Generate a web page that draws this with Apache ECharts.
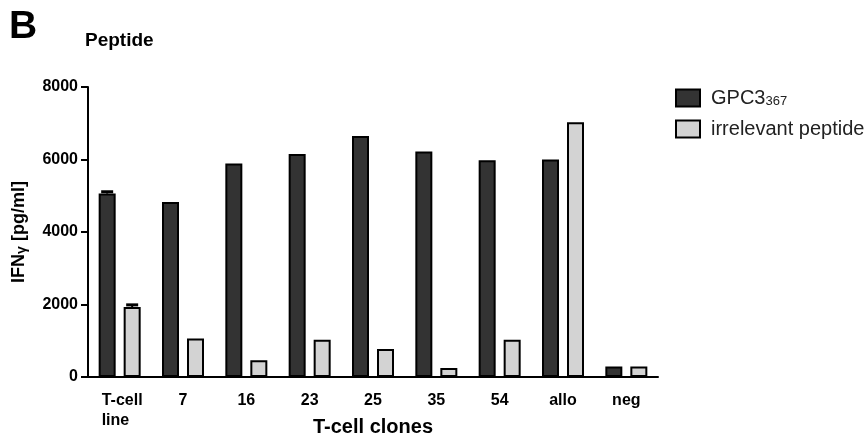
<!DOCTYPE html>
<html>
<head>
<meta charset="utf-8">
<script src="https://cdn.jsdelivr.net/npm/echarts@6/dist/echarts.min.js"></script>
<style>html,body{margin:0;padding:0;background:#fff}#c{width:865px;height:441px}</style>
</head>
<body>
<div id="c"></div>
<script>
var categories = ['T-cell\nline', '7', '16', '23', '25', '35', '54', 'allo', 'neg'];
var gpc3Values = [5060, 4830, 5890, 6150, 6650, 6220, 5980, 6000, 290];
var irrelevantValues = [1930, 1060, 460, 1030, 770, 250, 1030, 7030, 290];
var gpc3Errors = [50, 0, 0, 0, 0, 0, 0, 0, 0];
var irrelevantErrors = [60, 0, 0, 0, 0, 0, 0, 0, 0];
var yTicks = [0, 2000, 4000, 6000, 8000];

var BAR_W = 17, BAR_GAP = 8;
var OFFSET = (BAR_W + BAR_GAP) / 2;
var FONT = 'Liberation Sans, Arial, Helvetica, sans-serif';

function errData(vals, errs) {
  var out = [];
  for (var i = 0; i < vals.length; i++) if (errs[i] > 0) out.push([i, vals[i], errs[i]]);
  return out;
}
function errRender(dir) {
  return function (params, api) {
    var c = api.coord([api.value(0), api.value(1)]);
    var t = api.coord([api.value(0), api.value(1) + api.value(2)]);
    var x = c[0] + dir * OFFSET;
    return {
      type: 'group',
      children: [
        { type: 'line', shape: { x1: x, y1: c[1], x2: x, y2: t[1] }, style: { stroke: '#000', lineWidth: 2 } },
        { type: 'line', shape: { x1: x - 6, y1: t[1], x2: x + 6, y2: t[1] }, style: { stroke: '#000', lineWidth: 3 } }
      ]
    };
  };
}

var chart = echarts.init(document.getElementById('c'));
chart.setOption({
  animation: false,
  backgroundColor: '#fff',
  textStyle: { fontFamily: FONT },
  title: [
    { text: 'B', left: 4, top: 3, textStyle: { fontSize: 39, fontWeight: 'bold', color: '#000', fontFamily: FONT } },
    { text: 'Peptide', left: 80, top: 26, textStyle: { fontSize: 19, fontWeight: 'bold', color: '#000', fontFamily: FONT } }
  ],
  legend: {
    data: ['GPC3367', 'irrelevant peptide'],
    orient: 'vertical',
    left: 675,
    top: 87,
    padding: 0,
    itemWidth: 24,
    itemHeight: 17,
    itemGap: 11,
    icon: 'rect',
    textStyle: {
      fontSize: 20, color: '#222', fontFamily: FONT,
      rich: {
        n: { fontSize: 20, color: '#222', fontFamily: FONT, lineHeight: 20, padding: [0, 0, 0, 6] },
        s: { fontSize: 13, color: '#222', fontFamily: FONT, lineHeight: 20, verticalAlign: 'bottom', padding: [8, 0, 0, 0] }
      }
    },
    formatter: function (name) {
      if (name === 'GPC3367') return '{n|GPC3}{s|367}';
      return '{n|' + name + '}';
    }
  },
  grid: { left: 88, right: 207, top: 87, bottom: 64, outerBoundsMode: 'none', containLabel: false },
  xAxis: {
    type: 'category',
    data: categories,
    name: 'T-cell clones',
    nameLocation: 'middle',
    nameGap: 40,
    nameMoveOverlap: false,
    nameTextStyle: { fontSize: 20, fontWeight: 'bold', color: '#000', fontFamily: FONT },
    axisLine: { lineStyle: { color: '#000', width: 2 } },
    axisTick: { alignWithLabel: true, length: 7, lineStyle: { color: '#000', width: 2 } },
    axisLabel: {
      interval: 0,
      margin: 14,
      fontSize: 16,
      fontWeight: 'bold',
      color: '#000',
      lineHeight: 20,
      fontFamily: FONT,
      formatter: function (v) {
        if (v.indexOf('\n') >= 0) {
          var p = v.split('\n');
          return '{l|' + p[0] + '}\n{l|' + p[1] + '}';
        }
        return v;
      },
      rich: {
        l: { fontSize: 16, fontWeight: 'bold', color: '#000', fontFamily: FONT, width: 46, align: 'left', lineHeight: 20, padding: [0, 0, 0, 10] }
      }
    }
  },
  yAxis: {
    type: 'value',
    min: yTicks[0],
    max: yTicks[yTicks.length - 1],
    interval: yTicks[1] - yTicks[0],
    name: '{a|IFN}{g|γ}{a| [pg/ml]}',
    nameLocation: 'middle',
    nameGap: 59,
    nameRotate: 90,
    nameMoveOverlap: false,
    nameTextStyle: {
      rich: {
        a: { fontSize: 18, fontWeight: 'bold', color: '#000', fontFamily: FONT },
        g: { fontSize: 14, fontWeight: 'bold', color: '#000', fontFamily: FONT, padding: [5, 0, 0, 0] }
      }
    },
    splitLine: { show: false },
    axisLine: { show: true, lineStyle: { color: '#000', width: 2 } },
    axisTick: { show: true, length: 7, lineStyle: { color: '#000', width: 2 } },
    axisLabel: { fontSize: 16, fontWeight: 'bold', color: '#000', margin: 10, fontFamily: FONT, formatter: function (v) { return String(v); } }
  },
  series: [
    {
      name: 'GPC3367',
      type: 'bar',
      data: gpc3Values,
      barWidth: BAR_W,
      barGap: (BAR_GAP / BAR_W * 100) + '%',
      itemStyle: { color: '#333333', borderColor: '#000', borderWidth: 2 }
    },
    {
      name: 'irrelevant peptide',
      type: 'bar',
      data: irrelevantValues,
      barWidth: BAR_W,
      itemStyle: { color: '#d3d3d3', borderColor: '#000', borderWidth: 2 }
    },
    {
      type: 'custom',
      data: errData(gpc3Values, gpc3Errors),
      renderItem: errRender(-1),
      z: 5
    },
    {
      type: 'custom',
      data: errData(irrelevantValues, irrelevantErrors),
      renderItem: errRender(1),
      z: 5
    }
  ]
});
</script>
</body>
</html>
